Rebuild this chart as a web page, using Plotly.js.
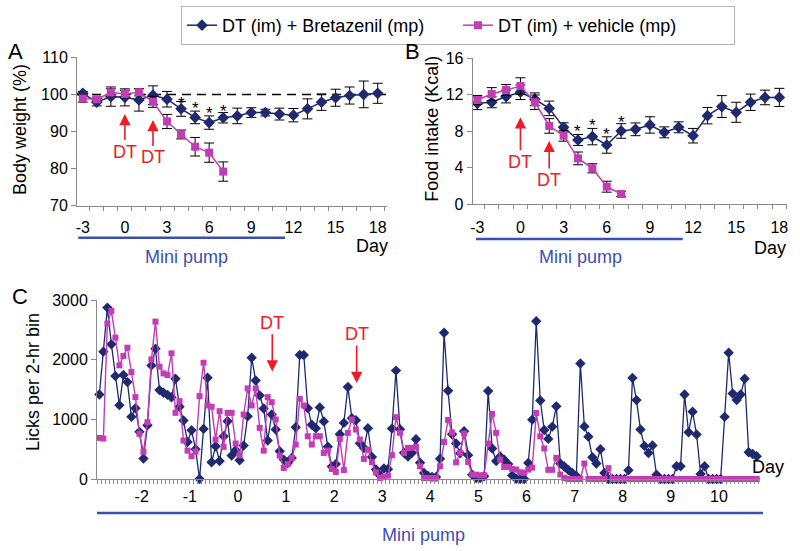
<!DOCTYPE html>
<html><head><meta charset="utf-8">
<script src="https://cdn.plot.ly/plotly-3.0.1.min.js"></script>
<style>html,body{margin:0;padding:0;background:#fff}#chart{width:800px;height:551px}</style>
</head><body><div id="chart"></div>
<script>
// ---------- DATA ----------
const seriesNames = ['DT (im) + Bretazenil (mp)', 'DT (im) + vehicle (mp)'];

// Panel A / B : daily values
const daysBretazenil = [-3,-2,-1,0,1,2,3,4,5,6,7,8,9,10,11,12,13,14,15,16,17,18];
const daysVehicle = [-3,-2,-1,0,1,2,3,4,5,6,7];

const bodyWeightBretazenil = [100.3,97.9,99.4,99.2,98.5,99.8,98.7,96.1,93.8,92.4,93.7,94.2,95.1,95.1,94.7,94.4,96.1,97.9,99.1,99.7,100.0,100.3];
const bodyWeightBretazenilErr = [0.5,1.0,2.6,2.3,3.0,2.5,2.1,2.0,1.7,1.8,1.4,2.1,1.3,0.9,1.6,1.8,2.7,2.2,2.3,2.3,3.6,2.7];
const bodyWeightVehicle = [98.9,98.7,100.5,100.1,100.6,98.0,92.7,89.2,85.9,84.3,79.2];
const bodyWeightVehicleErr = [1.0,0.6,1.0,1.0,1.0,1.5,1.9,1.2,2.5,2.6,2.6];

const foodIntakeBretazenil = [11.06,11.17,11.8,12.27,11.5,10.5,8.42,7.03,7.4,6.48,8.02,8.2,8.68,7.87,8.42,7.5,9.7,10.7,10.07,11.17,11.7,11.7];
const foodIntakeBretazenilErr = [0.7,0.6,0.7,0.8,0.7,0.8,0.5,0.6,0.9,0.9,0.8,0.7,0.9,0.6,0.6,0.8,0.9,1.2,1.1,0.9,0.8,1.0];
const foodIntakeVehicle = [11.42,12.08,12.52,12.96,11.17,8.57,7.5,5.01,3.92,1.9,1.1];
const foodIntakeVehicleErr = [0.5,0.7,0.6,0.9,0.8,0.8,0.6,0.7,0.5,0.6,0.3];

const sigDays = [4,5,6,7];
const starBodyWeight = [97.6,96.1,94.9,95.4];
const starFoodIntake = [7.98,8.57,7.65,8.93];

// Panel C : licks per 2-hr bin
const lickFirstBinDay = -2.88;
const binsPerDay = 12;
const licksBretazenil = [
1417,2134,2873,2257,1725,1238,1742,1624,1042,1187,790,342,
900,1904,2184,1490,1445,1410,1370,1680,1210,980,620,818,
500,0,840,1697,280,549,302,717,969,392,482,314,
560,1050,2033,1650,1400,1182,644,1081,829,465,325,269,
353,868,2078,2078,1187,910,850,1200,965,540,210,250,
750,940,1543,1020,985,600,520,850,370,160,60,175,
165,845,1817,835,440,378,440,666,272,100,50,35,
35,340,2450,1480,750,594,430,800,400,73,15,15,
45,1475,510,300,378,322,250,60,5,0,0,270,
995,2645,1316,820,672,877,1218,260,210,150,100,50,
1935,880,710,364,260,500,100,0,0,0,0,0,
146,1694,1322,829,555,435,563,70,0,0,0,0,
213,213,1417,784,1126,745,84,213,0,0,0,0,
1042,2117,1434,1322,1417,1680,448,420,381,364];
const licksVehicle = [
689,678,2604,2817,2369,1904,2061,2201,1792,1372,756,454,
952,2005,2638,1882,1770,1742,2106,1109,1305,644,476,381,
459,1389,1949,1232,1210,661,1137,538,1109,1109,594,398,
1081,1518,1232,1518,857,476,1372,1288,997,392,185,250,
353,577,1344,1232,717,577,717,717,437,476,168,118,
672,150,773,997,829,661,336,493,280,112,17,34,
56,398,1036,773,437,521,521,540,213,17,17,17,
17,213,620,990,780,280,437,762,286,73,73,62,
62,594,1092,773,325,202,202,168,157,112,105,157,
190,1106,714,512,154,154,355,75,17,0,0,0,
0,260,0,0,0,0,0,182,0,0,0,0,
0,0,0,0,0,0,0,0,0,0,0,0,
0,0,0,0,0,0,0,0,0,0,0,0,
0,0,0,0,0,0,0,0,0,0];

const dayTicksAB = [-3,0,3,6,9,12,15,18];
const dayTicksC = [-2,-1,0,1,2,3,4,5,6,7,8,9,10];
const dtDaysAB = [0,2];
const dtDaysC = [0.715,2.47];

// ---------- STYLE ----------
const BLUE = '#1f2a6e', PINK = '#c23db5', RED = '#ee1c25', PUMP = '#3a4fb4', AX = '#8a8a8a';
const FONT = 'Arial, "Liberation Sans", sans-serif';
const W = 800, H = 551;
const px = v => v / W, py = v => 1 - v / H;
const hyphen = v => String(v).replace('\u2212', '-');

const lickX = licksBretazenil.map((_, i) => lickFirstBinDay + i / binsPerDay);

function mk(x, y, err, name, color, symbol, size, xa, ya, legend, lw) {
  const t = {
    type: 'scatter', mode: 'lines+markers', x: x, y: y, name: name,
    xaxis: xa, yaxis: ya, showlegend: legend, cliponaxis: false,
    line: {color: color, width: lw},
    marker: {color: color, symbol: symbol, size: size}
  };
  if (err) t.error_y = {type: 'data', array: err, visible: true, color: '#000', thickness: 1, width: 5};
  return t;
}

const data = [
  mk(daysBretazenil, bodyWeightBretazenil, bodyWeightBretazenilErr, seriesNames[0], BLUE, 'diamond', 9, 'x', 'y', true, 1.5),
  mk(daysVehicle, bodyWeightVehicle, bodyWeightVehicleErr, seriesNames[1], PINK, 'square', 8, 'x', 'y', true, 1.5),
  mk(daysBretazenil, foodIntakeBretazenil, foodIntakeBretazenilErr, seriesNames[0], BLUE, 'diamond', 9, 'x2', 'y2', false, 1.5),
  mk(daysVehicle, foodIntakeVehicle, foodIntakeVehicleErr, seriesNames[1], PINK, 'square', 8, 'x2', 'y2', false, 1.5),
  mk(lickX, licksBretazenil, null, seriesNames[0], BLUE, 'diamond', 8, 'x3', 'y3', false, 1.3),
  mk(lickX, licksVehicle, null, seriesNames[1], PINK, 'square', 6, 'x3', 'y3', false, 1.4)
];

function xAxis(domain, range, tickvals, minor, anchor, standoff) {
  return {domain: domain, range: range, anchor: anchor, tickmode: 'array', tickvals: tickvals,
    ticktext: tickvals.map(v => (v < 0 ? '-' + Math.abs(v) : String(v))),
    ticks: '', showline: true, linecolor: AX, linewidth: 1, showgrid: false, zeroline: false,
    tickfont: {family: FONT, size: 16, color: '#000'}, ticklabelstandoff: standoff,
    minor: Object.assign({ticks: 'outside', ticklen: 4, tickcolor: AX, showgrid: false}, minor)};
}
function yAxis(domain, range, tickvals, anchor) {
  return {domain: domain, range: range, anchor: anchor, tickmode: 'array', tickvals: tickvals,
    ticks: 'outside', ticklen: 5, tickcolor: AX, showline: true, linecolor: AX, linewidth: 1,
    showgrid: false, zeroline: false, tickfont: {family: FONT, size: 16, color: '#000'}};
}

const ann = [];
function txt(x, y, text, size, color, opts) {
  ann.push(Object.assign({xref: 'paper', yref: 'paper', x: px(x), y: py(y), text: text, showarrow: false,
    font: {family: FONT, size: size, color: color}, xanchor: 'center', yanchor: 'middle'}, opts || {}));
}
txt(15.5, 51, 'A', 22, '#000');
txt(412.5, 51, 'B', 22, '#000');
txt(20, 296, 'C', 22, '#000');
txt(20, 130, 'Body weight (%)', 18, '#000', {textangle: -90});
txt(431.7, 129, 'Food intake (Kcal)', 18, '#000', {textangle: -90});
txt(33, 382, 'Licks per 2-hr bin', 18, '#000', {textangle: -90});
txt(372, 246, 'Day', 18, '#000');
txt(770, 248, 'Day', 18, '#000');
txt(768, 467, 'Day', 18, '#000');
txt(186.7, 257, 'Mini pump', 18, PUMP);
txt(580, 257, 'Mini pump', 18, PUMP);
txt(423, 535, 'Mini pump', 18, PUMP);

function arrow(xa, ya, x, tip, tail) {
  ann.push({xref: xa, yref: ya, axref: xa, ayref: ya, x: x, y: tip, ax: x, ay: tail, text: 'DT',
    showarrow: true, arrowhead: 2, arrowsize: 1.4, arrowwidth: 1.6, arrowcolor: RED, standoff: 0,
    font: {family: FONT, size: 18, color: RED}});
}
arrow('x', 'y', dtDaysAB[0], 94.7, 84.6);
arrow('x', 'y', dtDaysAB[1], 93.1, 83.0);
arrow('x2', 'y2', dtDaysAB[0], 9.52, 4.64);
arrow('x2', 'y2', dtDaysAB[1], 6.95, 2.64);
arrow('x3', 'y3', dtDaysC[0], 1803, 2617);
arrow('x3', 'y3', dtDaysC[1], 1608, 2432);

sigDays.forEach((d, i) => {
  ann.push({xref: 'x', yref: 'y', x: d, y: starBodyWeight[i], text: '*', showarrow: false,
    font: {family: FONT, size: 17, color: '#000'}});
  ann.push({xref: 'x2', yref: 'y2', x: d, y: starFoodIntake[i], text: '*', showarrow: false,
    font: {family: FONT, size: 17, color: '#000'}});
});

const shapes = [
  {type: 'line', xref: 'x domain', x0: 0, x1: 1, yref: 'y', y0: 100, y1: 100, layer: 'below',
   line: {color: '#000', width: 1.5, dash: '9px,6px'}},
  {type: 'line', xref: 'paper', yref: 'paper', x0: px(78.3), x1: px(285), y0: py(237.7), y1: py(237.7), line: {color: PUMP, width: 2.5}},
  {type: 'line', xref: 'paper', yref: 'paper', x0: px(476), x1: px(682.7), y0: py(239), y1: py(239), line: {color: PUMP, width: 2.5}},
  {type: 'line', xref: 'paper', yref: 'paper', x0: px(97), x1: px(763), y0: py(513), y1: py(513), line: {color: PUMP, width: 2.5}}
];

const layout = {
  width: W, height: H, margin: {l: 0, r: 0, t: 0, b: 0},
  paper_bgcolor: '#fff', plot_bgcolor: 'rgba(0,0,0,0)',
  font: {family: FONT, size: 16, color: '#000'},
  showlegend: true,
  legend: {orientation: 'h', x: px(181), y: py(6), xanchor: 'left', yanchor: 'top',
    bordercolor: '#b5b5b5', borderwidth: 1, bgcolor: '#fff', entrywidth: 231, entrywidthmode: 'pixels',
    font: {family: FONT, size: 18, color: '#000'}},
  xaxis: xAxis([px(77), px(386.7)], [-3.41, 18.64], dayTicksAB, {tickmode: 'linear', tick0: -3.5, dtick: 1}, 'y', 7),
  yaxis: yAxis([py(205.7), py(57.3)], [70, 110], [70, 80, 90, 100, 110], 'x'),
  xaxis2: xAxis([px(472.7), px(786.7)], [-3.32, 18.51], dayTicksAB, {tickmode: 'linear', tick0: -3.5, dtick: 1}, 'y2', 9),
  yaxis2: yAxis([py(204), py(58.3)], [0, 16], [0, 4, 8, 12, 16], 'x2'),
  xaxis3: xAxis([px(97), px(760)], [-2.929, 10.855], dayTicksC, {tickmode: 'linear', tick0: lickFirstBinDay - 0.5 / binsPerDay, dtick: 1 / binsPerDay}, 'y3', 3),
  yaxis3: yAxis([py(479), py(300)], [0, 3000], [0, 1000, 2000, 3000], 'x3'),
  annotations: ann,
  shapes: shapes
};

Plotly.newPlot('chart', data, layout, {displayModeBar: false, staticPlot: true});
</script>
</body></html>
